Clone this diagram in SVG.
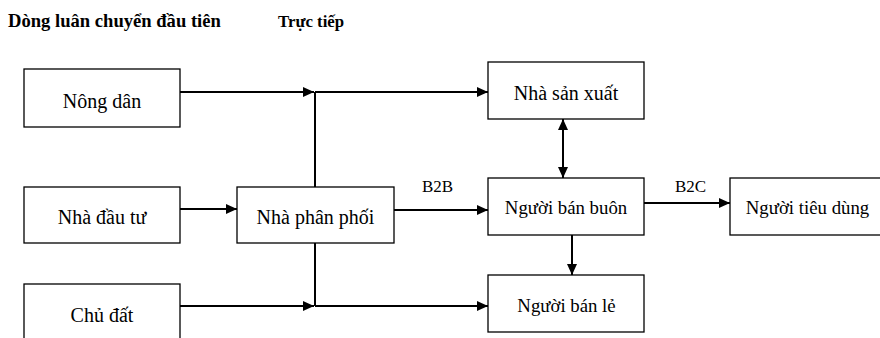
<svg xmlns="http://www.w3.org/2000/svg" width="880" height="338" viewBox="0 0 880 338">
<style>
.box{fill:#fff;stroke:#000;stroke-width:1.3}
.ln{stroke:#000;stroke-width:2;fill:none}
</style>
<defs>
<marker id="ah" markerUnits="userSpaceOnUse" markerWidth="12" markerHeight="10" refX="11" refY="5" orient="auto">
<path d="M0,0 L11,5 L0,10 Z" fill="#000"/>
</marker>
<marker id="ahs" markerUnits="userSpaceOnUse" markerWidth="12" markerHeight="10" refX="0" refY="5" orient="auto">
<path d="M11,0 L0,5 L11,10 Z" fill="#000"/>
</marker>
</defs>
<g font-family="Liberation Serif, Times New Roman, DejaVu Serif, serif" fill="#000">
<text font-size="18.6" font-weight="bold" x="8" y="27">Dòng luân chuyển đầu tiên</text>
<text font-size="16.8" font-weight="bold" x="278" y="27">Trực tiếp</text>
<g id="connectors">
<line class="ln" x1="180" y1="92" x2="314" y2="92" marker-end="url(#ah)"/>
<line class="ln" x1="315" y1="92" x2="488" y2="92" marker-end="url(#ah)"/>
<line class="ln" x1="315" y1="92" x2="315" y2="187"/>
<line class="ln" x1="180" y1="209" x2="237" y2="209" marker-end="url(#ah)"/>
<line class="ln" x1="394" y1="210" x2="488" y2="210" marker-end="url(#ah)"/>
<line class="ln" x1="315" y1="243" x2="315" y2="306"/>
<line class="ln" x1="180" y1="306" x2="314" y2="306" marker-end="url(#ah)"/>
<line class="ln" x1="315" y1="306" x2="488" y2="306" marker-end="url(#ah)"/>
<line class="ln" x1="563" y1="119" x2="563" y2="178" marker-start="url(#ahs)" marker-end="url(#ah)"/>
<line class="ln" x1="644" y1="203" x2="730" y2="203" marker-end="url(#ah)"/>
<line class="ln" x1="572" y1="235" x2="572" y2="275" marker-end="url(#ah)"/>
<text font-size="17" x="422" y="192">B2B</text>
<text font-size="17" x="675" y="192">B2C</text>
</g>
<g text-anchor="middle" font-size="20">
<g id="nong-dan"><rect class="box" x="24" y="69" width="156" height="58"/><text x="102" y="108">Nông dân</text></g>
<g id="nha-dau-tu"><rect class="box" x="24" y="187" width="156" height="56"/><text x="102" y="224">Nhà đầu tư</text></g>
<g id="chu-dat"><rect class="box" x="24" y="284" width="156" height="70"/><text x="102" y="322">Chủ đất</text></g>
<g id="nha-phan-phoi"><rect class="box" x="237" y="187" width="157" height="56"/><text x="315.5" y="224">Nhà phân phối</text></g>
<g id="nha-san-xuat"><rect class="box" x="488" y="62" width="156" height="57"/><text x="566" y="100">Nhà sản xuất</text></g>
<g id="nguoi-ban-buon"><rect class="box" x="488" y="178" width="156" height="57"/><text x="566" y="214" font-size="18.8">Người bán buôn</text></g>
<g id="nguoi-tieu-dung"><rect class="box" x="730" y="178" width="160" height="57"/><text x="807.5" y="214" font-size="18.8">Người tiêu dùng</text></g>
<g id="nguoi-ban-le"><rect class="box" x="488" y="275" width="156" height="57"/><text x="566.5" y="312" font-size="18.8">Người bán lẻ</text></g>
</g>
</g>
</svg>
